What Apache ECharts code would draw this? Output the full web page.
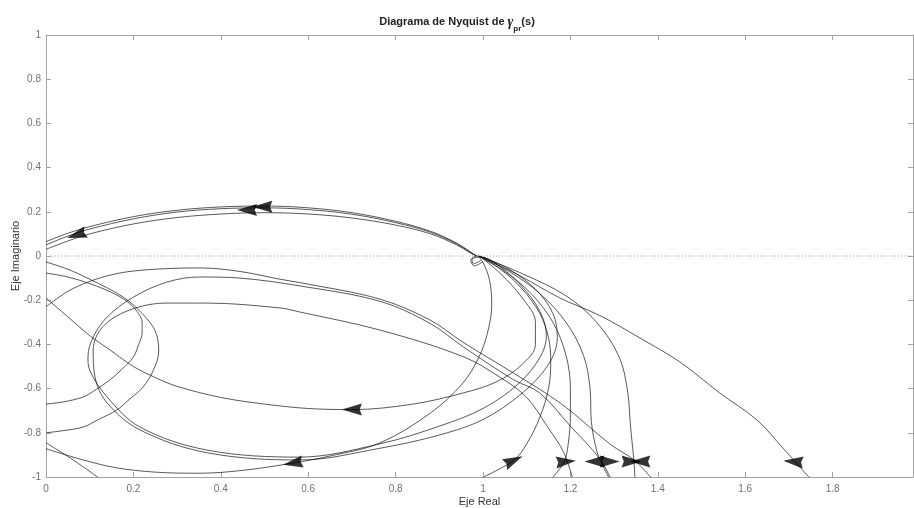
<!DOCTYPE html>
<html>
<head>
<meta charset="utf-8">
<script src="https://cdn.jsdelivr.net/npm/echarts@6/dist/echarts.min.js"></script>
<style>html,body{margin:0;padding:0;background:#fff}#c{width:914px;height:508px}</style>
</head>
<body>
<div id="c"></div>
<script>
// ---- tick labels / axis ranges ----
const xTicks = [0, 0.2, 0.4, 0.6, 0.8, 1, 1.2, 1.4, 1.6, 1.8];
const yTicks = [-1, -0.8, -0.6, -0.4, -0.2, 0, 0.2, 0.4, 0.6, 0.8, 1];
const xRange = [0, 1.984];
const yRange = [-1, 1];

// ---- curves (real, imaginary) ----
const upperArc1 = [[0,0.065],[0.05,0.103],[0.1,0.133],[0.2,0.178],[0.3,0.207],[0.4,0.222],[0.5,0.226],[0.6,0.218],[0.7,0.196],[0.8,0.157],[0.88,0.112],[0.94,0.058],[0.97,0.02],[0.985,0.0]];
const upperArc2 = [[0,0.05],[0.05,0.09],[0.1,0.122],[0.2,0.168],[0.3,0.199],[0.4,0.214],[0.5,0.218],[0.6,0.21],[0.7,0.189],[0.8,0.151],[0.88,0.107],[0.94,0.055],[0.97,0.018],[0.985,0.0]];
const upperArc3 = [[0,0.03],[0.05,0.068],[0.1,0.1],[0.2,0.145],[0.3,0.174],[0.4,0.19],[0.5,0.196],[0.6,0.19],[0.7,0.172],[0.8,0.14],[0.88,0.1],[0.94,0.05],[0.97,0.015],[0.985,0.0]];

const midArc = [[0,-0.19],[0.05,-0.275],[0.1,-0.36],[0.15,-0.43],[0.2,-0.5],[0.25,-0.55],[0.3,-0.59],[0.4,-0.64],[0.5,-0.67],[0.6,-0.69],[0.7,-0.695],[0.84,-0.67],[0.954,-0.62],[1.03,-0.57],[1.09,-0.49],[1.12,-0.40],[1.12,-0.30],[1.09,-0.19],[1.04,-0.08],[0.995,-0.005]];

const loopA = [[1.3,-1.04],[1.268,-0.92],[1.2,-0.77],[1.13,-0.62],[1.07,-0.56],[0.954,-0.41],[0.879,-0.305],[0.764,-0.205],[0.58,-0.135],[0.444,-0.1],[0.352,-0.095],[0.277,-0.118],[0.2,-0.186],[0.14,-0.276],[0.108,-0.367],[0.096,-0.457],[0.1,-0.516],[0.14,-0.638],[0.215,-0.774],[0.368,-0.878],[0.58,-0.91],[0.764,-0.85],[0.9,-0.77],[1.0,-0.69],[1.08,-0.58],[1.13,-0.46],[1.145,-0.36],[1.13,-0.25],[1.09,-0.14],[1.04,-0.05],[0.995,-0.005],[0.975,-0.015],[0.978,-0.035],[0.995,-0.02]];
const loopB = [[1.21,-1.04],[1.185,-0.89],[1.15,-0.78],[1.1,-0.64],[1.04,-0.55],[0.954,-0.455],[0.764,-0.335],[0.58,-0.253],[0.535,-0.235],[0.368,-0.213],[0.277,-0.213],[0.192,-0.244],[0.13,-0.32],[0.108,-0.425],[0.112,-0.547],[0.14,-0.665],[0.215,-0.787],[0.368,-0.89],[0.58,-0.923],[0.764,-0.87],[0.9,-0.81],[1.0,-0.74],[1.09,-0.62],[1.15,-0.49],[1.17,-0.37],[1.16,-0.26],[1.12,-0.15],[1.06,-0.06],[1.0,-0.005]];
const topDiag = [[0,-0.23],[0.05,-0.16],[0.1,-0.115],[0.15,-0.085],[0.2,-0.068],[0.277,-0.057],[0.352,-0.054],[0.444,-0.07],[0.535,-0.105],[0.58,-0.12],[0.764,-0.195],[0.879,-0.29],[0.954,-0.39],[1.07,-0.53],[1.18,-0.67],[1.29,-0.85],[1.35,-0.93],[1.4,-1.04]];

const bottomArc = [[0,-0.872],[0.08,-0.92],[0.16,-0.958],[0.25,-0.978],[0.35,-0.983],[0.45,-0.97],[0.565,-0.937],[0.65,-0.905],[0.764,-0.846],[0.88,-0.71],[0.954,-0.575],[0.99,-0.46],[1.01,-0.35],[1.02,-0.22],[1.015,-0.11],[1.0,-0.03],[0.985,0],[0.972,-0.02],[0.98,-0.045],[1.0,-0.025]];
const innerBulge = [[0,-0.077],[0.05,-0.095],[0.1,-0.125],[0.15,-0.165],[0.185,-0.205],[0.208,-0.25],[0.22,-0.3],[0.22,-0.348],[0.212,-0.4],[0.2,-0.457],[0.175,-0.51],[0.146,-0.561],[0.11,-0.61],[0.085,-0.638],[0.04,-0.66],[0,-0.67]];
const outerBulge = [[0,-0.027],[0.05,-0.06],[0.1,-0.105],[0.176,-0.185],[0.22,-0.26],[0.25,-0.34],[0.258,-0.43],[0.245,-0.52],[0.222,-0.593],[0.19,-0.65],[0.162,-0.697],[0.12,-0.74],[0.085,-0.774],[0.04,-0.79],[0,-0.80]];
const cornerLine = [[0,-0.845],[0.06,-0.92],[0.125,-1.01]];

const fanC1 = [[0.99,0],[1.04,-0.06],[1.09,-0.15],[1.13,-0.26],[1.15,-0.37],[1.155,-0.48],[1.15,-0.6],[1.13,-0.73],[1.1,-0.85],[1.07,-0.925],[0.99,-1.01]];
const fanC2 = [[0.99,0],[1.05,-0.07],[1.11,-0.17],[1.16,-0.3],[1.19,-0.45],[1.2,-0.6],[1.2,-0.72],[1.195,-0.85],[1.185,-0.935],[1.155,-1.01]];
const fanC3 = [[0.99,0],[1.06,-0.07],[1.13,-0.17],[1.19,-0.3],[1.23,-0.45],[1.245,-0.6],[1.248,-0.75],[1.26,-0.88],[1.272,-0.94],[1.29,-1.01]];
const fanC4 = [[0.99,0],[1.09,-0.08],[1.19,-0.18],[1.26,-0.3],[1.31,-0.45],[1.33,-0.6],[1.338,-0.78],[1.345,-0.92],[1.348,-1.01]];
const farCurve = [[0.993,0],[1.085,-0.09],[1.176,-0.19],[1.268,-0.27],[1.359,-0.371],[1.451,-0.48],[1.542,-0.62],[1.627,-0.742],[1.68,-0.855],[1.725,-0.955],[1.75,-1.01]];

const zeroLine = [[0,0],[1.984,0]];

// arrowheads: real, imaginary, heading in degrees (0 = right, 90 = up)
const arrowX = [0.46, 0.495, 0.07, 0.70, 0.565, 1.07, 1.19, 1.255, 1.29, 1.34, 1.36, 1.71];
const arrowY = [0.208, 0.223, 0.095, -0.695, -0.937, -0.925, -0.93, -0.93, -0.93, -0.93, -0.93, -0.93];
const arrowDir = [180, 180, 198, 180, 189, 25, 5, 180, 0, 0, 180, 175];

const curves = [upperArc1, upperArc2, upperArc3, midArc, loopA, loopB, topDiag, bottomArc, innerBulge, outerBulge, cornerLine, fanC1, fanC2, fanC3, fanC4, farCurve];

const chart = echarts.init(document.getElementById('c'), null, {renderer: 'canvas'});
const axisGray = '#a3a3a3';
const labelGray = '#707070';
const font = 'Liberation Sans, Arial, Helvetica, sans-serif';

const series = [];
series.push({
  type: 'line', data: zeroLine, showSymbol: false, silent: true,
  lineStyle: {color: '#8a8a8a', width: 0.8, type: [1, 2]}, z: 1
});
curves.forEach(c => series.push({
  type: 'line', data: c, showSymbol: false, smooth: 0.35, silent: true,
  lineStyle: {color: '#111', width: 0.7}, z: 2
}));
series.push({
  type: 'scatter', silent: true, z: 5, clip: false,
  data: arrowX.map((x, i) => ({value: [x, arrowY[i]], symbolRotate: arrowDir[i]})),
  symbol: 'path://M0,0L18,5L0,10L2,5Z', symbolSize: [20, 12],
  itemStyle: {color: '#000'}
});

const hiddenAxisCommon = {
  axisLine: {show: true, onZero: false, lineStyle: {color: axisGray, width: 1}},
  axisTick: {show: true, inside: true, length: 5, lineStyle: {color: axisGray}},
  axisLabel: {show: false}, splitLine: {show: false}
};

chart.setOption({
  animation: false,
  backgroundColor: '#fff',
  title: {
    text: '{a|Diagrama de Nyquist de }{g|γ}{s|pr}{a|(s)}',
    left: 'center', top: 6,
    textStyle: {
      rich: {
        a: {fontFamily: font, fontSize: 11, fontWeight: 'bold', color: '#222', lineHeight: 22, verticalAlign: 'middle'},
        g: {fontFamily: 'Liberation Serif, serif', fontStyle: 'italic', fontSize: 14, color: '#222', lineHeight: 22, verticalAlign: 'middle'},
        s: {fontFamily: font, fontSize: 8, fontWeight: 'bold', color: '#222', lineHeight: 14, verticalAlign: 'bottom', padding: [8, 0, 0, 0]}
      }
    }
  },
  grid: {left: 46, right: 1, top: 35, bottom: 31, containLabel: false, outerBoundsMode: 'none'},
  xAxis: [{
    type: 'value', position: 'bottom', min: xRange[0], max: xRange[1], interval: 0.2,
    axisLine: {show: true, onZero: false, lineStyle: {color: axisGray, width: 1}},
    axisTick: {show: true, inside: true, length: 5, lineStyle: {color: axisGray}},
    axisLabel: {color: labelGray, fontSize: 10, fontFamily: font, margin: 7, showMaxLabel: false,
      formatter: v => xTicks.some(t => Math.abs(t - v) < 1e-6) ? String(Math.round(v * 10) / 10) : ''},
    splitLine: {show: false},
    name: 'Eje Real', nameLocation: 'middle', nameGap: 19, nameMoveOverlap: false,
    nameTextStyle: {color: '#333', fontSize: 11, fontFamily: font}
  }, Object.assign({
    type: 'value', position: 'top', min: xRange[0], max: xRange[1], interval: 0.2
  }, hiddenAxisCommon)],
  yAxis: [{
    type: 'value', position: 'left', min: yRange[0], max: yRange[1], interval: 0.2,
    axisLine: {show: true, onZero: false, lineStyle: {color: axisGray, width: 1}},
    axisTick: {show: true, inside: true, length: 5, lineStyle: {color: axisGray}},
    axisLabel: {color: labelGray, fontSize: 10, fontFamily: font, margin: 5,
      formatter: v => yTicks.some(t => Math.abs(t - v) < 1e-6) ? String(Math.round(v * 10) / 10) : ''},
    splitLine: {show: false},
    name: 'Eje Imaginario', nameLocation: 'middle', nameGap: 25, nameMoveOverlap: false,
    nameTextStyle: {color: '#333', fontSize: 11, fontFamily: font}
  }, Object.assign({
    type: 'value', position: 'right', min: yRange[0], max: yRange[1], interval: 0.2
  }, hiddenAxisCommon)],
  series: series
});
</script>
</body>
</html>
